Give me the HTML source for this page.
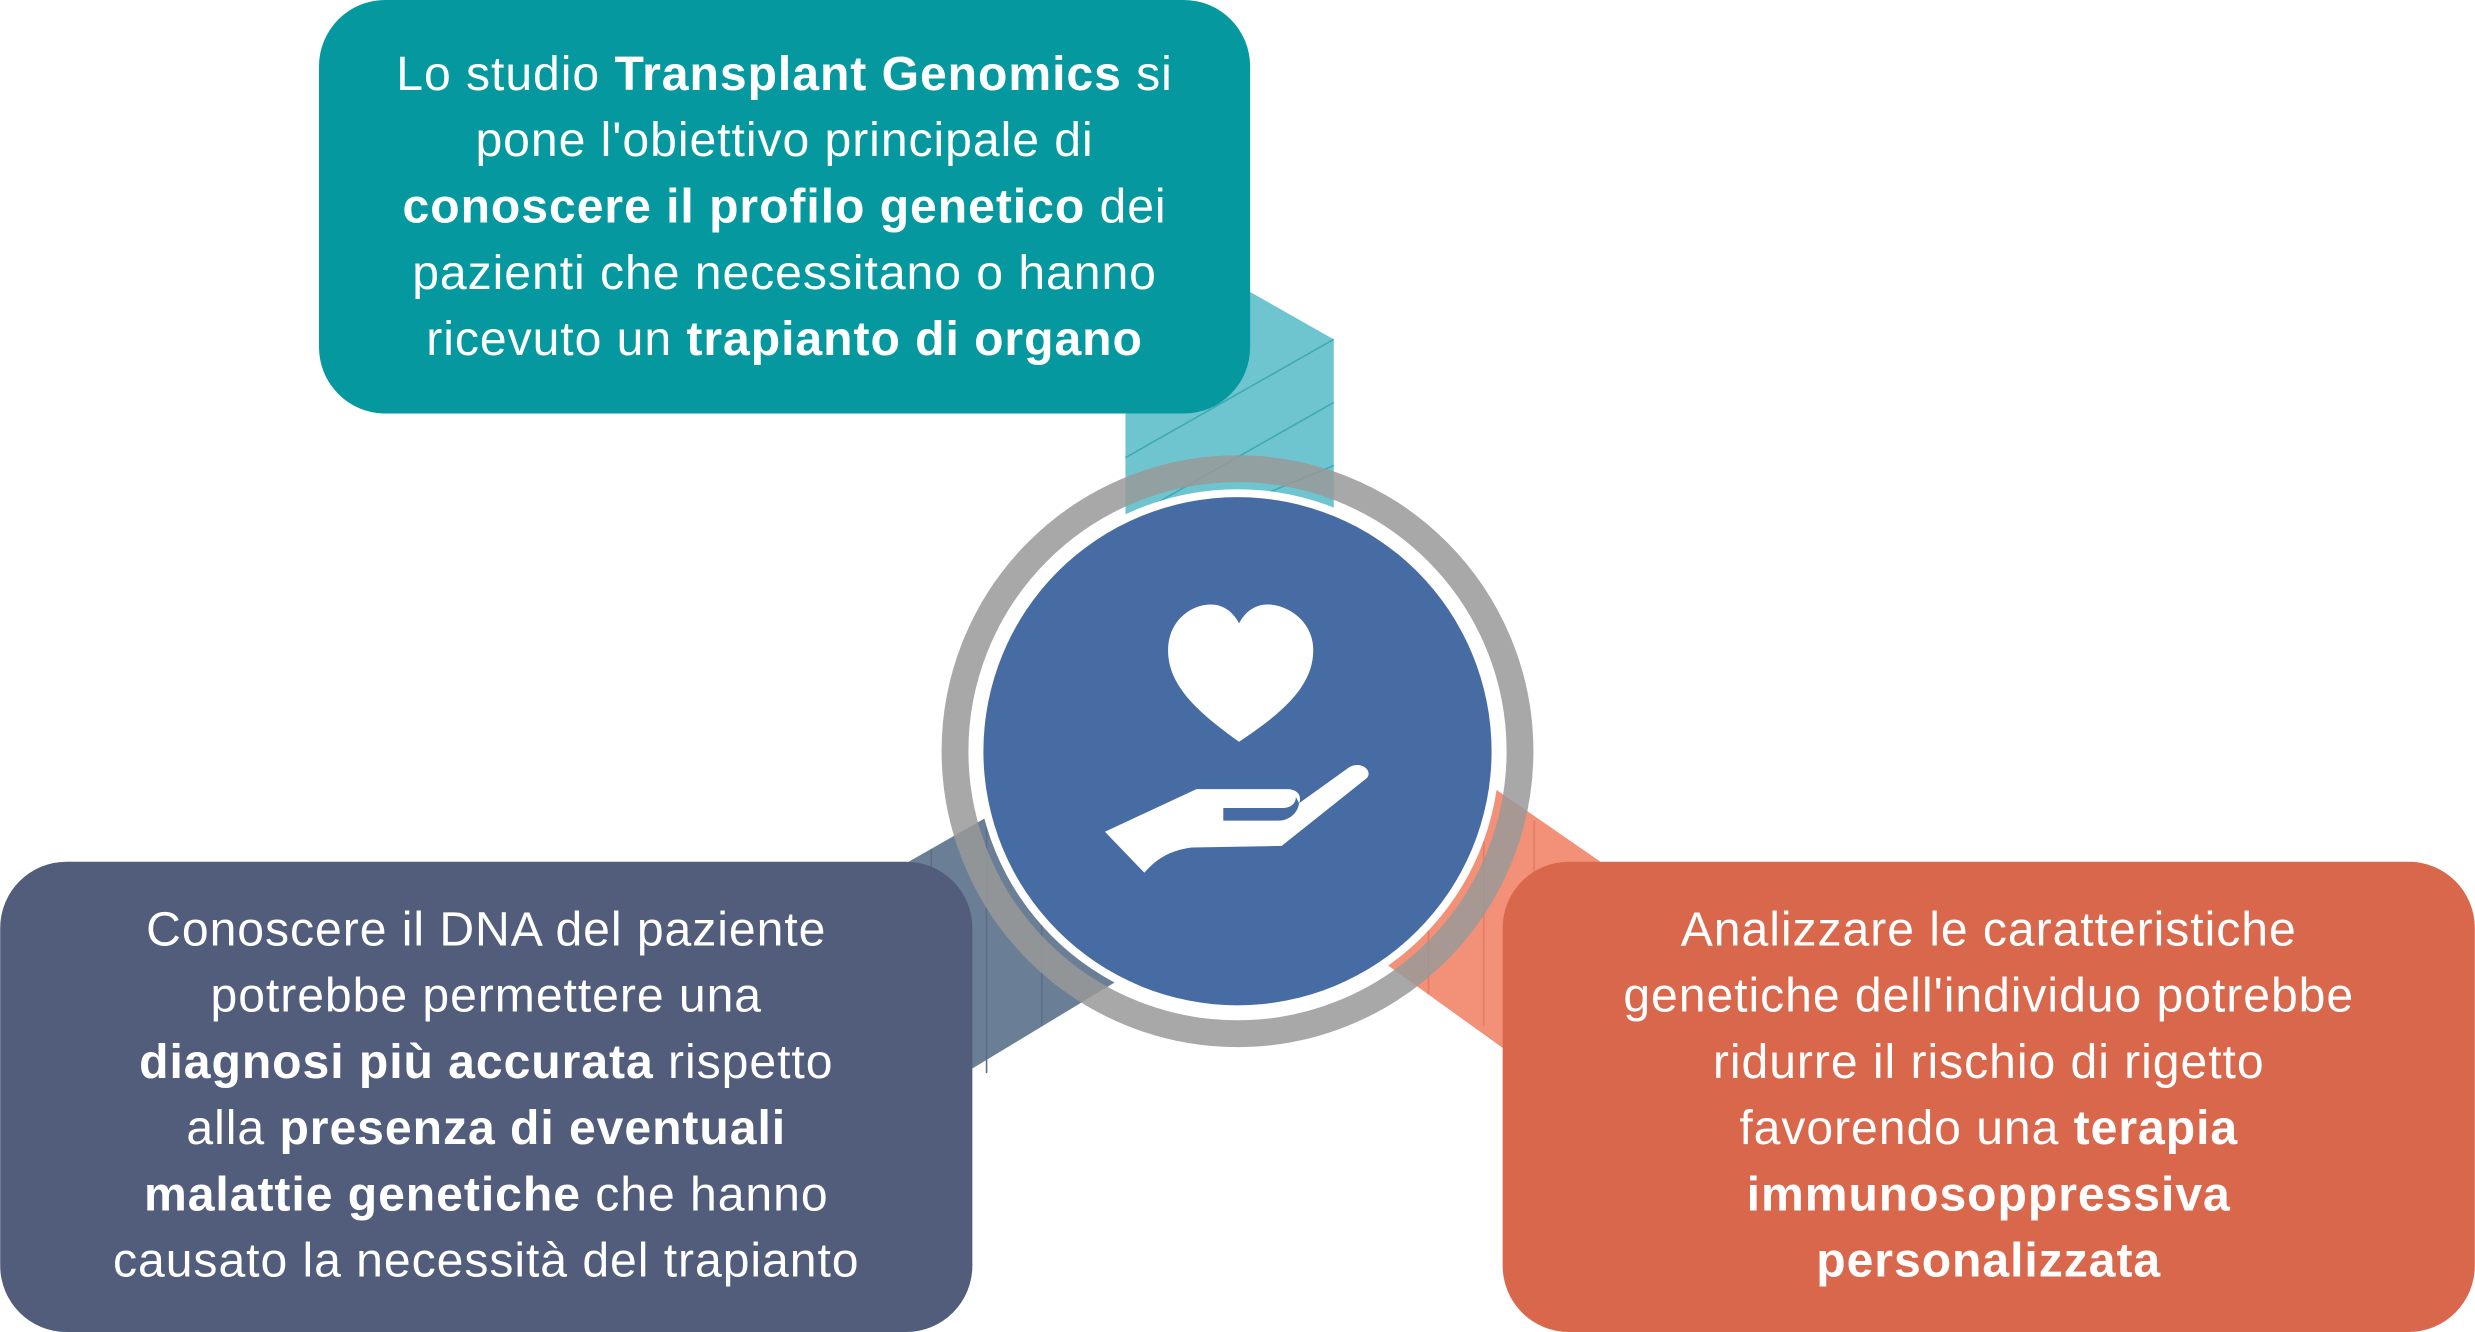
<!DOCTYPE html>
<html><head><meta charset="utf-8"><style>
html,body{margin:0;padding:0;background:#fff;}
svg{display:block;}
text{font-family:"Liberation Sans",sans-serif;fill:#fff;font-size:30.5px;letter-spacing:0.6px;text-anchor:middle;}
.b{font-weight:bold;}
</style></head><body>
<svg width="2475" height="1332" viewBox="0 0 1568 844" xmlns="http://www.w3.org/2000/svg">
<!-- connectors -->
<polygon points="713,200 792,185 845,215 845,330 713,330" fill="#6fc5cf"/>
<g stroke="#3fa9b5" stroke-width="1">
<line x1="713" y1="290" x2="845" y2="215"/>
<line x1="713" y1="330" x2="845" y2="255"/>
<line x1="760" y1="330" x2="845" y2="295"/>
</g>
<polygon points="560,555 700,475 760,590 616,677" fill="#6a7f96"/>
<g stroke="#5a6d84" stroke-width="1"><line x1="590" y1="538" x2="590" y2="700"/><line x1="625" y1="520" x2="625" y2="680"/><line x1="660" y1="500" x2="660" y2="650"/></g>
<polygon points="930,488 1014,546 952,664 870,605" fill="#f39178"/>
<g stroke="#e27c64" stroke-width="1"><line x1="972" y1="520" x2="972" y2="680"/><line x1="940" y1="495" x2="940" y2="650"/><line x1="905" y1="480" x2="905" y2="630"/></g>
<!-- boxes -->
<rect x="202" y="0" width="590" height="262" rx="42" fill="#05999f"/>
<rect x="0" y="546" width="616" height="298" rx="42" fill="#525d7b"/>
<rect x="952" y="546" width="616" height="298" rx="42" fill="#d9674b"/>
<!-- ring -->
<circle cx="784" cy="476" r="179" fill="none" stroke="#999" stroke-opacity="0.85" stroke-width="17"/>
<circle cx="784" cy="476" r="166" fill="#fff"/>
<circle cx="784" cy="476" r="161" fill="#476ca3"/>
<!-- heart -->
<path d="M785,470 C760,452 740,435 740,412 C740,393 755,383 767,383 C776,383 782,389 785,395 C788,389 794,383 803,383 C815,383 832,393 832,412 C832,435 812,452 785,470 Z" fill="#fff"/>
<!-- hand -->
<path d="M700,527 L758,500 L815,500 C822,500 825,504 823,509 L855,486 C862,482 870,488 866,493 L812,536 L755,537 C740,539 732,545 725,553 Z" fill="#fff"/>
<path d="M775,512 L812,512 C818,512 821,509 821,505 L823,509 C822,516 816,520 810,520 L775,520 Z" fill="#476ca3"/>
<!-- teal text -->
<text x="497" y="57">Lo studio <tspan class="b">Transplant Genomics</tspan> si</text>
<text x="497" y="99">pone l'obiettivo principale di</text>
<text x="497" y="141"><tspan class="b">conoscere il profilo genetico</tspan> dei</text>
<text x="497" y="183">pazienti che necessitano o hanno</text>
<text x="497" y="225">ricevuto un <tspan class="b">trapianto di organo</tspan></text>
<!-- left text -->
<text x="308" y="599">Conoscere il DNA del paziente</text>
<text x="308" y="641">potrebbe permettere una</text>
<text x="308" y="683"><tspan class="b">diagnosi più accurata</tspan> rispetto</text>
<text x="308" y="725">alla <tspan class="b">presenza di eventuali</tspan></text>
<text x="308" y="767"><tspan class="b">malattie genetiche</tspan> che hanno</text>
<text x="308" y="809">causato la necessità del trapianto</text>
<!-- right text -->
<text x="1260" y="599">Analizzare le caratteristiche</text>
<text x="1260" y="641">genetiche dell'individuo potrebbe</text>
<text x="1260" y="683">ridurre il rischio di rigetto</text>
<text x="1260" y="725">favorendo una <tspan class="b">terapia</tspan></text>
<text x="1260" y="767" class="b">immunosoppressiva</text>
<text x="1260" y="809" class="b">personalizzata</text>
</svg>
</body></html>
